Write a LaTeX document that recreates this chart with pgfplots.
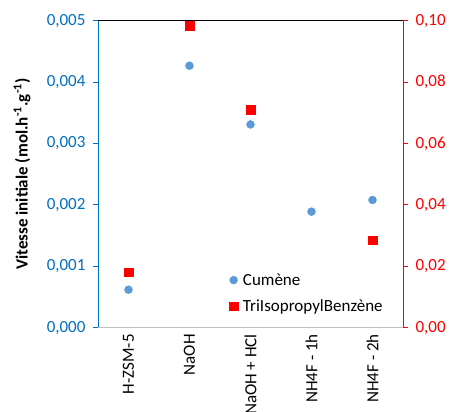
\documentclass[border=0pt]{standalone}
\usepackage{pgfplots}
\pgfplotsset{compat=1.18}
\usepackage{fontspec}
\setmainfont{Carlito}
\definecolor{lblue}{HTML}{0070C0}
\definecolor{mblue}{HTML}{5B9BD5}
\definecolor{gridgray}{HTML}{BFBFBF}
\begin{document}
\begin{tikzpicture}
\pgfplotsset{
  base/.style={
    scale only axis, width=305pt, height=307pt,
    at={(98pt,84.3pt)}, anchor=south west,
    xmin=-0.5, xmax=4.5,
    xtick={0,1,2,3,4},
    /pgf/number format/assume math mode=true,
    /pgf/number format/use comma,
    /pgf/number format/fixed,
    /pgf/number format/fixed zerofill,
    tick label style={font=\fontsize{17}{20}\selectfont},
    major tick length=5pt,
    clip=false,
  }
}
\begin{axis}[base,
  ymin=0, ymax=0.005,
  ytick={0,0.001,0.002,0.003,0.004,0.005},
  /pgf/number format/precision=3,
  scaled y ticks=false,
  axis y line*=left,
  axis x line=none,
  y axis line style={lblue, thick, -},
  ytick style={lblue, thick},
  yticklabel style={text=lblue, xshift=-4pt},
  tick align=outside,
  ylabel={\bfseries Vitesse initiale (mol.h\textsuperscript{-1}.g\textsuperscript{-1})},
  ylabel style={font=\fontsize{17}{20}\selectfont, at={(-76pt,0.5)}, anchor=center},
  legend style={draw=none, fill=none, at={(rel axis cs:0.43,0.19)}, anchor=north west,
    font=\fontsize{17}{20}\selectfont, row sep=9pt, column sep=3pt, legend cell align=left,
    inner xsep=0pt},
  legend image code/.code={\draw[#1] plot coordinates {(0.3cm,0cm)};},
]
\draw[black, thick] (rel axis cs:0,1) -- (rel axis cs:1,1);
\draw[gridgray, thick] (rel axis cs:0,0) -- (rel axis cs:1,0);
\addplot[only marks, mark=*, mark size=4pt, color=mblue] coordinates {
(0,0.000619) (1,0.004267) (2,0.00331) (3,0.00189) (4,0.00208)};
\addlegendentry{Cumène}
\addlegendimage{only marks, mark=square*, mark size=4.3pt, color=red}
\addlegendentry{TriIsopropylBenzène}
\end{axis}
\begin{axis}[base,
  ymin=0, ymax=0.1,
  ytick={0,0.02,0.04,0.06,0.08,0.1},
  /pgf/number format/precision=2,
  scaled y ticks=false,
  axis y line*=right,
  axis x line*=bottom,
  x axis line style={draw=none},
  y axis line style={red, thick, -},
  ytick style={red, thick},
  yticklabel style={text=red, xshift=4pt},
  xtick style={draw=none},
  tick align=outside,
  xticklabels={H-ZSM-5, NaOH, NaOH + HCl, NH4F - 1h, NH4F - 2h},
  xticklabel style={rotate=90, anchor=east, text=black},
  xticklabel shift=-2pt,
]
\addplot[only marks, mark=square*, mark size=4.3pt, color=red] coordinates {
(0,0.01805) (1,0.0983) (2,0.0711) (4,0.0285)};
\end{axis}
\pgfresetboundingbox
\useasboundingbox (0,0) rectangle (453pt,412pt);
\end{tikzpicture}
\end{document}
